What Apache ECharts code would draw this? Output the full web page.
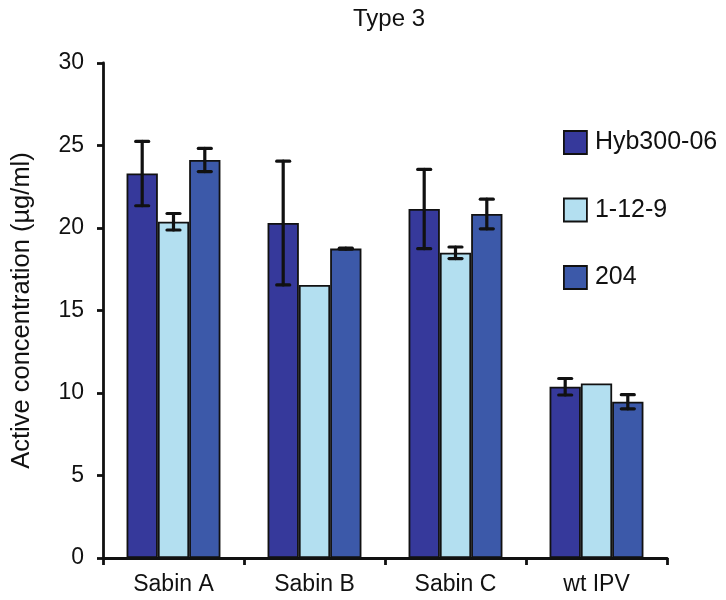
<!DOCTYPE html>
<html>
<head>
<meta charset="utf-8">
<script src="https://cdn.jsdelivr.net/npm/echarts@6/dist/echarts.min.js"></script>
<style>
  html, body { margin: 0; padding: 0; background: #fff; }
  #chart { width: 726px; height: 600px; }
</style>
</head>
<body>
<div id="chart"></div>
<script>
  // data
  const categories = ['Sabin A', 'Sabin B', 'Sabin C', 'wt IPV'];
  const seriesNames = ['Hyb300-06', '1-12-9', '204'];
  const hybValues = [23.3, 20.3, 21.15, 10.38];
  const hybErrors = [1.95, 3.75, 2.4, 0.5];
  const cloneValues = [20.38, 16.55, 18.5, 10.58];
  const cloneErrors = [0.5, 0, 0.35, 0];
  const s204Values = [24.12, 18.75, 20.85, 9.47];
  const s204Errors = [0.7, 0.03, 0.9, 0.43];
  const yTicks = [0, 5, 10, 15, 20, 25, 30];

  const COLORS = ['#36399b', '#b3dff0', '#3c59a9'];
  const FONT = 'Liberation Sans, Arial, sans-serif';
  const BAR_RATIO = 0.222;

  const chart = echarts.init(document.getElementById('chart'));

  const allValues = [hybValues, cloneValues, s204Values];
  const allErrors = [hybErrors, cloneErrors, s204Errors];

  const barSeries = seriesNames.map((name, i) => ({
    name,
    type: 'bar',
    data: allValues[i],
    barWidth: (BAR_RATIO * 100) + '%',
    barGap: '0%',
    itemStyle: { color: COLORS[i], borderColor: '#111', borderWidth: 1.8 },
    z: 2,
  }));

  // error bars drawn on top of each bar, offset to match the grouped bar slots
  const errorSeries = seriesNames.map((name, i) => ({
    name: name + ' err',
    type: 'custom',
    z: 5,
    silent: true,
    data: categories.map((c, j) => [j, allValues[i][j], allErrors[i][j]]),
    renderItem: function (params, api) {
      const err = api.value(2);
      if (!err) return null;
      const band = api.size([1, 0])[0];
      const off = (i - 1) * band * BAR_RATIO;
      const top = api.coord([api.value(0), api.value(1) + err]);
      const bot = api.coord([api.value(0), api.value(1) - err]);
      const x = top[0] + off;
      const cap = 6.5;
      const style = { stroke: '#111', lineWidth: 3.2, lineCap: 'round' };
      return {
        type: 'group',
        children: [
          { type: 'line', shape: { x1: x, y1: top[1], x2: x, y2: bot[1] }, style },
          { type: 'line', shape: { x1: x - cap, y1: top[1], x2: x + cap, y2: top[1] }, style },
          { type: 'line', shape: { x1: x - cap, y1: bot[1], x2: x + cap, y2: bot[1] }, style },
        ],
      };
    },
  }));

  const option = {
    animation: false,
    backgroundColor: '#fff',
    title: {
      text: 'Type 3',
      left: 384,
      top: 2,
      textAlign: 'center',
      textStyle: { fontFamily: FONT, fontSize: 24, fontWeight: 'normal', color: '#111' },
    },
    legend: {
      data: seriesNames,
      orient: 'vertical',
      left: 563,
      top: 130,
      padding: 0,
      icon: 'rect',
      itemWidth: 23,
      itemHeight: 23,
      itemGap: 42.5,
      textStyle: { fontFamily: FONT, fontSize: 25, color: '#111', padding: [0, 0, 0, 3] },
      itemStyle: { borderColor: '#111', borderWidth: 1.8 },
    },
    grid: { left: 103, right: 59, top: 63, bottom: 42, containLabel: false },
    xAxis: {
      type: 'category',
      data: categories,
      axisLine: { lineStyle: { color: '#111', width: 2.8 } },
      axisTick: { show: true, length: 7, lineStyle: { color: '#111', width: 2.8 } },
      axisLabel: { fontFamily: FONT, fontSize: 23, color: '#111', margin: 15 },
    },
    yAxis: {
      type: 'value',
      min: yTicks[0],
      max: yTicks[yTicks.length - 1],
      interval: 5,
      name: 'Active concentration (µg/ml)',
      nameLocation: 'middle',
      nameGap: 68,
      nameTextStyle: { fontFamily: FONT, fontSize: 25.5, color: '#111' },
      axisLine: { show: true, lineStyle: { color: '#111', width: 2.8 } },
      axisTick: { show: true, length: 6, lineStyle: { color: '#111', width: 2.8 } },
      axisLabel: { fontFamily: FONT, fontSize: 23, color: '#111', margin: 19 },
      splitLine: { show: false },
    },
    series: [...barSeries, ...errorSeries],
  };

  chart.setOption(option);
</script>
</body>
</html>
